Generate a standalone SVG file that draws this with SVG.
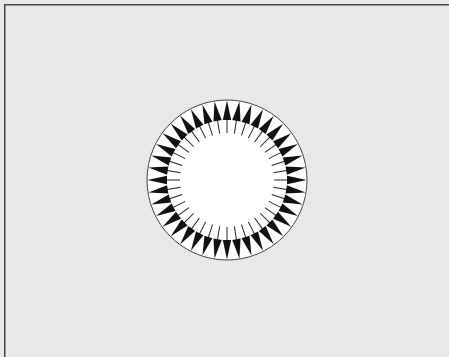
<svg xmlns="http://www.w3.org/2000/svg" xmlns:xlink="http://www.w3.org/1999/xlink" width="449" height="357" viewBox="0 0 449 357">
<style>
.frame{fill:none;stroke:#444;stroke-width:1.5}
.ring{fill:#fff;stroke:#444;stroke-width:1}
.shaft{stroke:#222;stroke-width:1}
.head{fill:#111}
</style>
<defs>
<g id="arrow">
<line class="shaft" x1="0" y1="-47" x2="0" y2="-62"/>
<polygon class="head" points="0,-79.5 -4.2,-60 4.2,-60"/>
</g>
</defs>
<rect x="0" y="0" width="449" height="357" fill="#e8e8e8"/>
<path class="frame" d="M4.75,357 V4.75 H449"/>
<circle class="ring" cx="227" cy="180" r="80"/>
<g id="arrows" transform="translate(227,180)">
<use xlink:href="#arrow" href="#arrow" transform="rotate(0)"/>
<use xlink:href="#arrow" href="#arrow" transform="rotate(9)"/>
<use xlink:href="#arrow" href="#arrow" transform="rotate(18)"/>
<use xlink:href="#arrow" href="#arrow" transform="rotate(27)"/>
<use xlink:href="#arrow" href="#arrow" transform="rotate(36)"/>
<use xlink:href="#arrow" href="#arrow" transform="rotate(45)"/>
<use xlink:href="#arrow" href="#arrow" transform="rotate(54)"/>
<use xlink:href="#arrow" href="#arrow" transform="rotate(63)"/>
<use xlink:href="#arrow" href="#arrow" transform="rotate(72)"/>
<use xlink:href="#arrow" href="#arrow" transform="rotate(81)"/>
<use xlink:href="#arrow" href="#arrow" transform="rotate(90)"/>
<use xlink:href="#arrow" href="#arrow" transform="rotate(99)"/>
<use xlink:href="#arrow" href="#arrow" transform="rotate(108)"/>
<use xlink:href="#arrow" href="#arrow" transform="rotate(117)"/>
<use xlink:href="#arrow" href="#arrow" transform="rotate(126)"/>
<use xlink:href="#arrow" href="#arrow" transform="rotate(135)"/>
<use xlink:href="#arrow" href="#arrow" transform="rotate(144)"/>
<use xlink:href="#arrow" href="#arrow" transform="rotate(153)"/>
<use xlink:href="#arrow" href="#arrow" transform="rotate(162)"/>
<use xlink:href="#arrow" href="#arrow" transform="rotate(171)"/>
<use xlink:href="#arrow" href="#arrow" transform="rotate(180)"/>
<use xlink:href="#arrow" href="#arrow" transform="rotate(189)"/>
<use xlink:href="#arrow" href="#arrow" transform="rotate(198)"/>
<use xlink:href="#arrow" href="#arrow" transform="rotate(207)"/>
<use xlink:href="#arrow" href="#arrow" transform="rotate(216)"/>
<use xlink:href="#arrow" href="#arrow" transform="rotate(225)"/>
<use xlink:href="#arrow" href="#arrow" transform="rotate(234)"/>
<use xlink:href="#arrow" href="#arrow" transform="rotate(243)"/>
<use xlink:href="#arrow" href="#arrow" transform="rotate(252)"/>
<use xlink:href="#arrow" href="#arrow" transform="rotate(261)"/>
<use xlink:href="#arrow" href="#arrow" transform="rotate(270)"/>
<use xlink:href="#arrow" href="#arrow" transform="rotate(279)"/>
<use xlink:href="#arrow" href="#arrow" transform="rotate(288)"/>
<use xlink:href="#arrow" href="#arrow" transform="rotate(297)"/>
<use xlink:href="#arrow" href="#arrow" transform="rotate(306)"/>
<use xlink:href="#arrow" href="#arrow" transform="rotate(315)"/>
<use xlink:href="#arrow" href="#arrow" transform="rotate(324)"/>
<use xlink:href="#arrow" href="#arrow" transform="rotate(333)"/>
<use xlink:href="#arrow" href="#arrow" transform="rotate(342)"/>
<use xlink:href="#arrow" href="#arrow" transform="rotate(351)"/>
</g>
</svg>
